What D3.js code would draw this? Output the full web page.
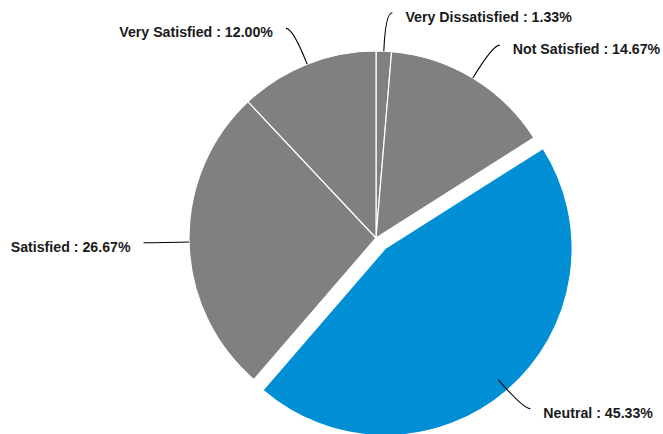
<!DOCTYPE html>
<html>
<head>
<meta charset="utf-8">
<script src="https://cdn.jsdelivr.net/npm/d3@7"></script>
<style>
  body { margin: 0; background: #fff; }
  svg { display: block; }
  .label { font-family: "Liberation Sans", Arial, sans-serif; font-weight: bold; font-size: 14.2px; fill: #1a1a1a; }
</style>
</head>
<body>
<div id="chart"></div>
<script>
// satisfaction survey shares, clockwise from 12 o'clock
const CATEGORIES = ["Very Dissatisfied", "Not Satisfied", "Neutral", "Satisfied", "Very Satisfied"]
const VALUES = [1.33, 14.67, 45.33, 26.67, 12.00]
const EXPLODED = ["Neutral"]

const width = 663, height = 434
const cx = 376, cy = 238, radius = 187
const explodeBy = 14
const elbowR = 225.5, tail = 7, gap = 13

const data = CATEGORIES.map((c, i) => ({ key: c, value: VALUES[i] }))

const color = d => EXPLODED.includes(d.key) ? "#008fd5" : "#808080"

const svg = d3.select("#chart").append("svg")
    .attr("width", width)
    .attr("height", height)

const g = svg.append("g")
    .attr("transform", "translate(" + cx + "," + cy + ")")

const pie = d3.pie()
    .sort(null)
    .value(d => d.value)

const arc = d3.arc()
    .innerRadius(0)
    .outerRadius(radius)

const arcs = pie(data)

// polar helper, angle measured clockwise from top
const pt = (a, r) => [Math.sin(a) * r, -Math.cos(a) * r]

// slices
g.selectAll(".slice")
    .data(arcs)
    .enter().append("path")
    .attr("class", "slice")
    .attr("d", arc)
    .attr("transform", d => {
        if (!EXPLODED.includes(d.data.key)) return null
        const m = pt((d.startAngle + d.endAngle) / 2, explodeBy)
        return "translate(" + m[0] + "," + m[1] + ")"
    })
    .style("fill", d => color(d.data))
    .style("stroke", "#fff")
    .style("stroke-width", 1.2)

// leader lines
g.selectAll(".leader")
    .data(arcs)
    .enter().append("path")
    .attr("class", "leader")
    .attr("d", d => {
        const a = (d.startAngle + d.endAngle) / 2
        const right = Math.sin(a) >= 0
        const p0 = pt(a, radius)
        const p1 = pt(a, elbowR)
        const p2 = [p1[0] + (right ? tail : -tail), p1[1]]
        return "M" + p0 + "Q" + p1 + " " + p2
    })
    .style("fill", "none")
    .style("stroke", "#000")
    .style("stroke-width", 1.1)

// labels
g.selectAll(".label")
    .data(arcs)
    .enter().append("text")
    .attr("class", "label")
    .attr("x", d => {
        const a = (d.startAngle + d.endAngle) / 2
        const right = Math.sin(a) >= 0
        const p1 = pt(a, elbowR)
        return p1[0] + (right ? tail + gap : -(tail + gap))
    })
    .attr("y", d => pt((d.startAngle + d.endAngle) / 2, elbowR)[1] + 4)
    .attr("dominant-baseline", "central")
    .attr("text-anchor", d => Math.sin((d.startAngle + d.endAngle) / 2) >= 0 ? "start" : "end")
    .text(d => d.data.key + " : " + d3.format(".2f")(d.data.value) + "%")
</script>
</body>
</html>
